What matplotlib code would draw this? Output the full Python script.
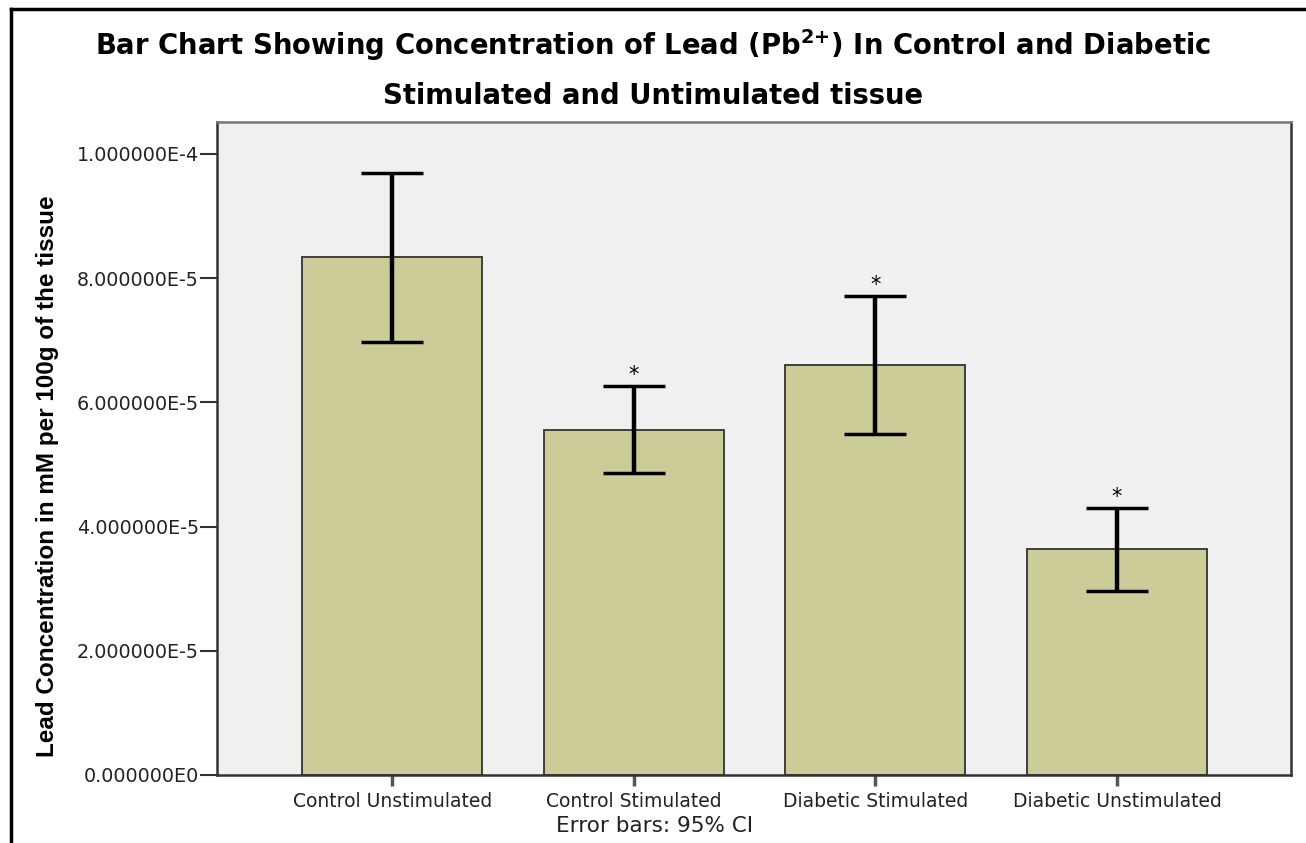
import matplotlib.pyplot as plt
from matplotlib.lines import Line2D
import numpy as np

groups = ["Control Unstimulated", "Control Stimulated", "Diabetic Stimulated", "Diabetic Unstimulated"]
means = [8.34e-5, 5.56e-5, 6.60e-5, 3.64e-5]
ci_low = [6.97e-5, 4.86e-5, 5.49e-5, 2.96e-5]
ci_high = [9.69e-5, 6.26e-5, 7.71e-5, 4.30e-5]
significant = [False, True, True, True]
yticks = [0, 2e-5, 4e-5, 6e-5, 8e-5, 1e-4]
ytick_labels = ["0.000000E0", "2.000000E-5", "4.000000E-5", "6.000000E-5", "8.000000E-5", "1.000000E-4"]

plt.rcParams["font.family"] = ["DejaVu Sans"]
plt.rcParams["mathtext.fontset"] = "dejavusans"

fig = plt.figure(figsize=(13.06, 8.43), dpi=100)
ax = fig.add_axes([217 / 1306, 1 - 775 / 843, (1291 - 217) / 1306, (775 - 122) / 843])
ax.set_facecolor("#f0f0f0")

x = np.arange(len(groups))
means = np.array(means)
err = np.array([means - np.array(ci_low), np.array(ci_high) - means])

ax.bar(x, means, width=0.745, color="#cccc99", edgecolor="#333333", linewidth=1.3, zorder=2)
ax.errorbar(x, means, yerr=err, fmt="none", ecolor="black", elinewidth=3.2,
            capsize=22, capthick=2.5, zorder=3)

for xi, hi, sig in zip(x, ci_high, significant):
    if sig:
        ax.annotate("*", (xi, hi), xytext=(0, 1), textcoords="offset points",
                    ha="center", va="bottom", fontsize=15)

ax.set_xlim(-0.725, 3.72)
ax.set_ylim(0, 1.0515e-4)
ax.set_yticks(yticks)
ax.set_yticklabels(ytick_labels, fontsize=13.8, color="#222222")
ax.set_xticks(x)
ax.set_xticklabels(groups, fontsize=13.5, color="#222222")
ax.tick_params(axis="y", length=12, width=1.5, color="#333333", pad=1)
ax.tick_params(axis="x", length=8, width=2.5, color="#555555", pad=4)

for s in ax.spines.values():
    s.set_color("#333333")
    s.set_linewidth(1.8)
ax.spines["top"].set_color("#777777")

fig.text(655 / 1306, 1 - 826 / 843, "Error bars: 95% CI", ha="center", va="center",
         fontsize=15.5, color="#222222")
fig.text(48 / 1306, 1 - 476 / 843, "Lead Concentration in mM per 100g of the tissue",
         rotation=90, ha="center", va="center", fontsize=17.5, fontweight="bold",
         family=["Liberation Sans Narrow", "Liberation Sans", "DejaVu Sans"])

fig.text(0.5, 1 - 45 / 843, r"Bar Chart Showing Concentration of Lead (Pb$^{\mathbf{2{+}}}$) In Control and Diabetic",
         ha="center", va="center", fontsize=19.8, fontweight="bold")
fig.text(0.5, 1 - 96 / 843, "Stimulated and Untimulated tissue",
         ha="center", va="center", fontsize=19.8, fontweight="bold")

fig.add_artist(Line2D([11 / 1306, 1], [1 - 9 / 843, 1 - 9 / 843], color="black", lw=2.5,
                      transform=fig.transFigure))
fig.add_artist(Line2D([11 / 1306, 11 / 1306], [0, 1 - 9 / 843], color="black", lw=2.5,
                      transform=fig.transFigure))

fig.savefig("out.png", dpi=100)
